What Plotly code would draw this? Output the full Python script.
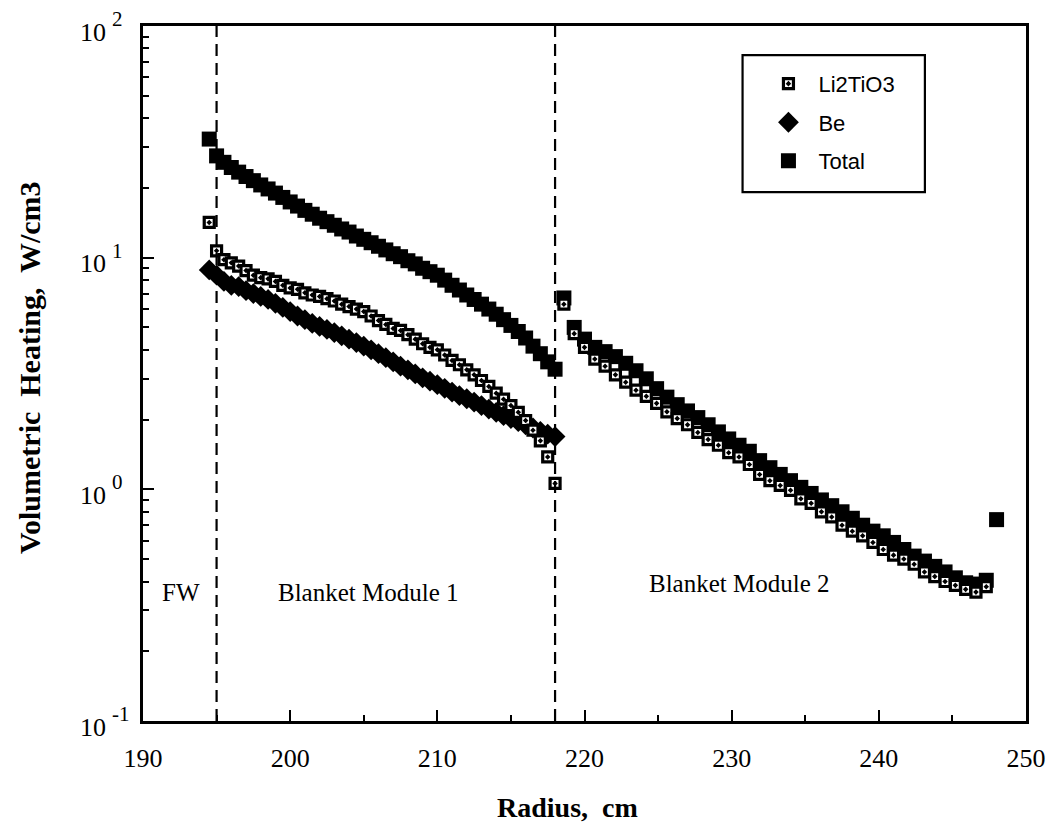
import math
import plotly.graph_objects as go

# Radial positions (cm) of the tallies
r_mod1 = [194.5, 195.0, 195.5, 196.0, 196.5, 197.0, 197.5, 198.0, 198.5, 199.0,
          199.5, 200.0, 200.5, 201.0, 201.5, 202.0, 202.5, 203.0, 203.5, 204.0,
          204.5, 205.0, 205.5, 206.0, 206.5, 207.0, 207.5, 208.0, 208.5, 209.0,
          209.5, 210.0, 210.5, 211.0, 211.5, 212.0, 212.5, 213.0, 213.5, 214.0,
          214.5, 215.0, 215.5, 216.0, 216.5, 217.0, 217.5, 218.0]
r_mod2 = [218.6, 219.3, 220.0, 220.7, 221.4, 222.1, 222.8, 223.5, 224.2, 224.9,
          225.6, 226.3, 227.0, 227.7, 228.4, 229.1, 229.8, 230.5, 231.2, 231.9,
          232.6, 233.3, 234.0, 234.7, 235.4, 236.1, 236.8, 237.5, 238.2, 238.9,
          239.6, 240.3, 241.0, 241.7, 242.4, 243.1, 243.8, 244.5, 245.2, 245.9,
          246.6, 247.3]
r_shield = [248.0]

# Volumetric heating, W/cm3
total_mod1 = [32.5, 27.5, 25.8, 24.5, 23.4, 22.4, 21.5, 20.6, 19.8, 19.0,
              18.2, 17.4, 16.7, 16.0, 15.4, 14.8, 14.3, 13.8, 13.3, 12.9,
              12.4, 12.0, 11.6, 11.2, 10.8, 10.4, 10.1, 9.7, 9.4, 9.0,
              8.7, 8.4, 8.0, 7.6, 7.25, 6.9, 6.6, 6.3, 6.0, 5.7,
              5.4, 5.1, 4.8, 4.5, 4.15, 3.85, 3.55, 3.3]
li_mod1 = [14.2, 10.7, 9.8, 9.5, 9.2, 8.8, 8.4, 8.2, 8.1, 7.9,
           7.6, 7.4, 7.3, 7.05, 6.9, 6.8, 6.65, 6.5, 6.3, 6.15,
           6.0, 5.85, 5.6, 5.35, 5.15, 4.95, 4.85, 4.65, 4.45, 4.25,
           4.1, 4.0, 3.8, 3.6, 3.45, 3.28, 3.12, 2.95, 2.78, 2.6,
           2.45, 2.3, 2.15, 1.98, 1.8, 1.62, 1.38, 1.06]
be_mod1 = [8.85, 8.4, 7.9, 7.6, 7.5, 7.2, 7.0, 6.8, 6.6, 6.35,
           6.1, 5.85, 5.6, 5.4, 5.2, 5.05, 4.9, 4.75, 4.6, 4.45,
           4.3, 4.15, 4.0, 3.85, 3.7, 3.55, 3.4, 3.28, 3.15, 3.03,
           2.93, 2.83, 2.73, 2.63, 2.54, 2.46, 2.38, 2.30, 2.22, 2.15,
           2.08, 2.02, 1.96, 1.90, 1.84, 1.78, 1.73, 1.69]
total_mod2 = [6.7, 5.0, 4.45, 4.1, 3.93, 3.74, 3.5, 3.25, 3.0, 2.72,
              2.5, 2.32, 2.18, 2.04, 1.9, 1.77, 1.65, 1.55, 1.46, 1.33,
              1.24, 1.16, 1.09, 1.02, 0.96, 0.90, 0.85, 0.80, 0.75, 0.70,
              0.66, 0.63, 0.59, 0.55, 0.515, 0.49, 0.465, 0.44, 0.415, 0.395,
              0.39, 0.405]
total_shield = [0.74]
li_mod2 = [6.3, 4.7, 4.1, 3.65, 3.4, 3.12, 2.9, 2.68, 2.52, 2.35,
           2.16, 2.02, 1.9, 1.76, 1.64, 1.55, 1.44, 1.38, 1.28, 1.16,
           1.09, 1.04, 0.99, 0.91, 0.87, 0.80, 0.76, 0.70, 0.66, 0.63,
           0.59, 0.55, 0.52, 0.50, 0.475, 0.44, 0.42, 0.40, 0.385, 0.37,
           0.36, 0.38]

# Zone boundaries (cm) and zone names
boundaries = [195.0, 218.0]
zone_labels = [("FW", 192.6, 0.36), ("Blanket Module 1", 205.3, 0.36),
               ("Blanket Module 2", 230.5, 0.394)]

x_ticks = [190, 200, 210, 220, 230, 240, 250]
x_minor = [195, 205, 215, 225, 235, 245]
y_ticks = [0.1, 1, 10, 100]
y_exponents = ["-1", "0", "1", "2"]
y_minor = [m * d for d in (0.1, 1, 10) for m in range(2, 10)]

SERIF = "Liberation Serif, Times New Roman, serif"
SANS = "Liberation Sans, Arial, sans-serif"

fig = go.Figure()

# Drawn first so the hollow Li2TiO3 squares sit on top
fig.add_trace(go.Scatter(
    x=r_mod1 + r_mod2 + r_shield, y=total_mod1 + total_mod2 + total_shield,
    mode="markers", name="Total", legendrank=3, legendgroup="c",
    marker=dict(symbol="square", size=15, color="black", line=dict(width=0)),
))
fig.add_trace(go.Scatter(
    x=r_mod1, y=be_mod1, mode="markers", name="Be", legendrank=2, legendgroup="b",
    marker=dict(symbol="diamond", size=16, color="black", line=dict(width=0)),
))
fig.add_trace(go.Scatter(
    x=r_mod1 + r_mod2, y=li_mod1 + li_mod2, mode="markers", name="Li2TiO3",
    legendrank=1, legendgroup="a",
    marker=dict(symbol="square-dot", size=10, color="white",
                line=dict(width=3.2, color="black")),
))

shapes = []
for b in boundaries:
    shapes.append(dict(type="line", xref="x", yref="paper", x0=b, x1=b, y0=0, y1=1,
                       line=dict(color="black", width=2.2, dash="12px,7px")))
# Legend frame
shapes.append(dict(type="rect", xref="paper", yref="paper",
                   x0=0.679, x1=0.8855, y0=0.761, y1=0.958,
                   line=dict(color="black", width=2.2), fillcolor="rgba(0,0,0,0)"))

annotations = []
for text, xr, yv in zone_labels:
    annotations.append(dict(text=text, x=xr, y=math.log10(yv),
                            xref="x", yref="y", showarrow=False,
                            font=dict(family=SERIF, size=25, color="black")))

# Decade labels on the log axis: base "10" with a raised exponent
for val, exp in zip(y_ticks, y_exponents):
    annotations.append(dict(text="10", x=-0.04, y=math.log10(val), xref="paper",
                            yref="y", xanchor="right", yanchor="middle", yshift=-6,
                            showarrow=False,
                            font=dict(family=SERIF, size=26, color="black")))
    annotations.append(dict(text=exp, x=-0.037, y=math.log10(val), xref="paper",
                            yref="y", xanchor="left", yanchor="middle", yshift=7,
                            showarrow=False,
                            font=dict(family=SERIF, size=21, color="black")))

annotations.append(dict(text="<b>Volumetric  Heating,  W/cm3</b>", textangle=-90,
                        xref="paper", yref="paper", x=-0.128, y=0.508,
                        xanchor="center", yanchor="middle", showarrow=False,
                        font=dict(family=SERIF, size=30, color="black")))
annotations.append(dict(text="<b>Radius,  cm</b>", xref="paper", yref="paper",
                        x=0.481, y=-0.125, xanchor="center", yanchor="middle",
                        showarrow=False, font=dict(family=SERIF, size=28, color="black")))

fig.update_layout(
    width=1058, height=827,
    margin=dict(l=143, r=24, t=26, b=106),
    paper_bgcolor="white", plot_bgcolor="white",
    shapes=shapes, annotations=annotations,
    showlegend=True,
    legend=dict(x=0.697, y=0.947, xanchor="left", yanchor="top",
                bgcolor="rgba(0,0,0,0)", borderwidth=0,
                traceorder="grouped", tracegroupgap=7, itemwidth=50,
                font=dict(family=SANS, size=22, color="black")),
    xaxis=dict(range=[190, 250], tickmode="array", tickvals=x_ticks,
               ticks="inside", ticklen=11, tickwidth=2, tickcolor="black",
               showline=True, linecolor="black", linewidth=3, mirror=True,
               showgrid=False, zeroline=False, ticklabelstandoff=12,
               tickfont=dict(family=SERIF, size=26, color="black"),
               minor=dict(tickvals=x_minor, ticks="inside", ticklen=6,
                          tickwidth=2, tickcolor="black", showgrid=False)),
    yaxis=dict(type="log", range=[-1, 2], tickmode="array", tickvals=y_ticks,
               showticklabels=False,
               ticks="inside", ticklen=11, tickwidth=2, tickcolor="black",
               showline=True, linecolor="black", linewidth=3, mirror=True,
               showgrid=False, zeroline=False,
               minor=dict(tickvals=y_minor, ticks="inside", ticklen=6,
                          tickwidth=2, tickcolor="black", showgrid=False)),
)

fig.write_html("out.html")
